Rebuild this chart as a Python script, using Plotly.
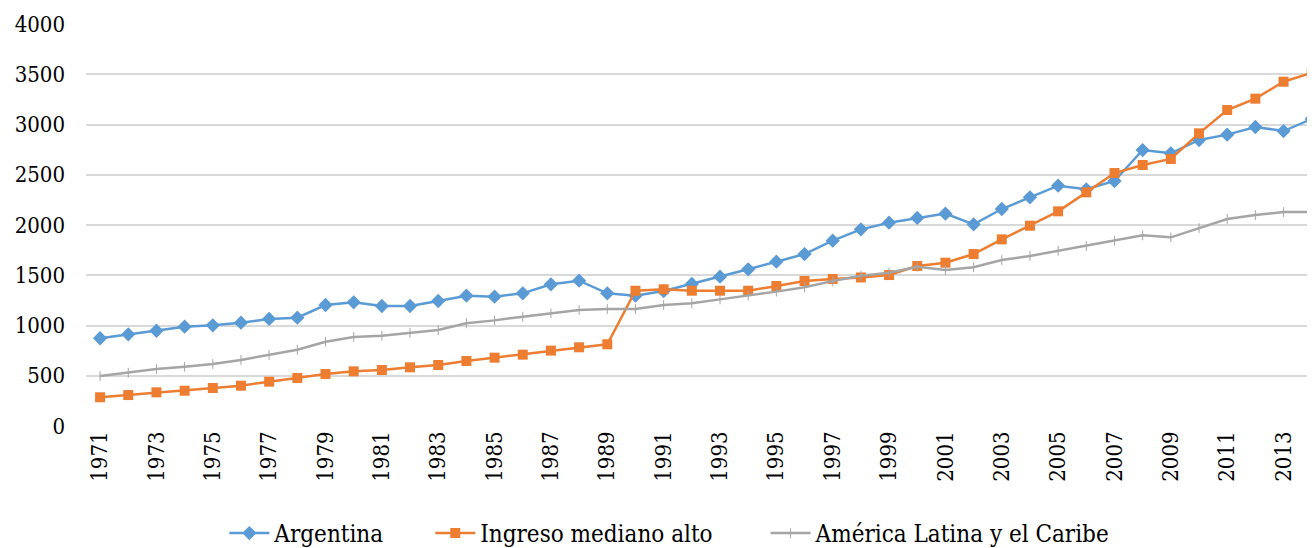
import plotly.graph_objects as go

years = list(range(1971, 2015))
argentina = [873, 912, 948, 988, 1002, 1028, 1065, 1078, 1204, 1231, 1194, 1194, 1244,
             1297, 1287, 1320, 1410, 1446, 1320, 1297, 1343, 1413, 1486, 1559, 1635, 1711,
             1844, 1957, 2023, 2070, 2113, 2007, 2159, 2275, 2391, 2355, 2438, 2746, 2713,
             2846, 2899, 2975, 2935, 3055]
ingreso = [286, 308, 335, 351, 378, 401, 441, 478, 517, 544, 557, 584, 607,
           647, 680, 710, 750, 783, 813, 1346, 1360, 1346, 1346, 1346, 1393, 1443,
           1463, 1478, 1502, 1592, 1625, 1711, 1857, 1993, 2136, 2325, 2517, 2597, 2657,
           2912, 3144, 3257, 3426, 3515]
latam = [497, 530, 567, 590, 617, 657, 706, 759, 839, 886, 898, 928, 955,
         1022, 1051, 1088, 1121, 1154, 1164, 1164, 1204, 1221, 1260, 1297, 1337, 1380,
         1443, 1495, 1526, 1585, 1552, 1579, 1652, 1692, 1744, 1791, 1844, 1897, 1877,
         1970, 2060, 2099, 2129, 2129]
series_names = ["Argentina", "Ingreso mediano alto", "América Latina y el Caribe"]
tick_years = list(range(1971, 2015, 2))
y_ticks = [0, 500, 1000, 1500, 2000, 2500, 3000, 3500, 4000]

FONT = "DejaVu Serif Condensed"
NB = "\u00a0"

fig = go.Figure()
fig.add_trace(go.Scatter(
    x=years, y=argentina, name=series_names[0] + NB * 6, mode="lines+markers",
    line=dict(color="#5B9BD5", width=2.5),
    marker=dict(symbol="diamond", size=11, color="#5B9BD5"),
    cliponaxis=False))
fig.add_trace(go.Scatter(
    x=years, y=ingreso, name=series_names[1] + NB * 7, mode="lines+markers",
    line=dict(color="#ED7D31", width=2.5),
    marker=dict(symbol="square", size=10, color="#ED7D31"),
    cliponaxis=False))
fig.add_trace(go.Scatter(
    x=years, y=latam, name=series_names[2], mode="lines+markers",
    line=dict(color="#A5A5A5", width=2.5),
    marker=dict(symbol="line-ns", size=7, color="#A5A5A5",
                line=dict(color="#A5A5A5", width=1)),
    cliponaxis=False))

fig.update_layout(
    width=1315, height=548,
    margin=dict(l=78, r=0, t=16, b=130),
    paper_bgcolor="white", plot_bgcolor="white",
    font=dict(family=FONT, size=22, color="#000000"),
    showlegend=True,
    legend=dict(orientation="h", x=0.472, xanchor="center", y=-130/402, yanchor="bottom",
                font=dict(family=FONT, size=24), itemwidth=40,
                tracegroupgap=0),
    xaxis=dict(range=[1970.5, 2014.4], tickmode="array", tickvals=tick_years,
               ticktext=[str(y) for y in tick_years], tickangle=-90,
               showgrid=False, zeroline=False, showline=False, ticks="",
               automargin=False,
               tickfont=dict(family=FONT, size=22)),
    yaxis=dict(range=[0, 4000], tickmode="array", tickvals=y_ticks,
               showgrid=True, gridcolor="#D9D9D9", gridwidth=1.5,
               zeroline=False, showline=False, ticks="",
               automargin=False,
               ticklabelstandoff=20,
               tickfont=dict(family=FONT, size=22)),
)

fig.write_html("out.html")
